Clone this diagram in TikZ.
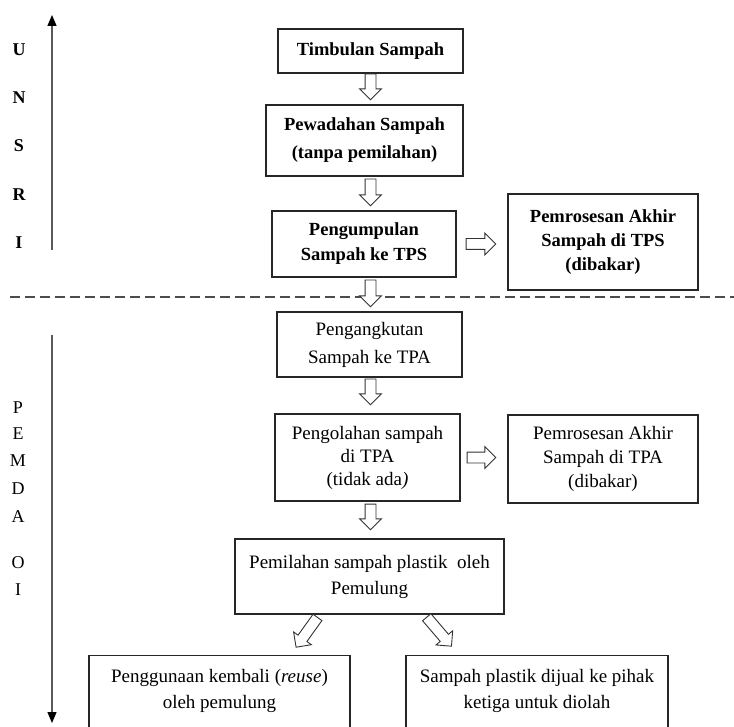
\documentclass[tikz,border=0pt]{standalone}
\usepackage{fontspec}
\setmainfont{Liberation Serif}
\usetikzlibrary{arrows.meta,calc,positioning,shapes.arrows}

\tikzset{
  box/.style={draw=black!85, line width=1.2pt, align=center, inner sep=0pt},
  topbox/.style={box, font=\bfseries\fontsize{18.5}{28}\selectfont},
  lowbox/.style={box, font=\fontsize{19}{24}\selectfont},
  lowtext/.style={align=center, inner sep=0pt, font=\fontsize{19}{26}\selectfont},
  blockarrow/.style={single arrow, draw=black!80, fill=white, line width=0.9pt,
    inner sep=0pt, inner ysep=5pt, single arrow head extend=5.5pt,
    single arrow head indent=0pt},
  side/.style={black!65, line width=1.4pt, -{Triangle[black, width=9pt, length=11pt]}}
}

% #1 gap at tail, #2 gap at tip, #3 from, #4 to
\newcommand{\hollowto}[4]{%
  \path let \p1=($(#4)-(#3)$), \n1={atan2(\y1,\x1)}, \n2={veclen(\x1,\y1)-#1-#2} in
    node[blockarrow, rotate=\n1, minimum height=\n2, anchor=tail] at ($(#3)!#1pt!(#4)$) {};}

\begin{document}
\begin{tikzpicture}[x=1pt, y=-1pt]
\useasboundingbox (0,0) rectangle (734,727);

\coordinate (unsri-bot) at (52,250);
\coordinate (unsri-top) at (52,15);
\coordinate (pemda-top) at (52,335);
\coordinate (pemda-bot) at (52,723);
\draw[side] (unsri-bot) -- (unsri-top);
\draw[side] (pemda-top) -- (pemda-bot);
\foreach \y/\l in {50/U, 98/N, 146/S, 195/R, 243/I}
  \node[font=\bfseries\fontsize{18}{18}\selectfont] (unsri-\l) at (19,\y) {\l};
\foreach \y/\l/\n in {408/P/1, 434/E/2, 461/M/3, 489/D/4, 517/A/5, 563/O/6, 590/I/7}
  \node[font=\fontsize{18}{18}\selectfont] (pemda-\n) at (18,\y) {\l};

\coordinate (cut-l) at (10,297);
\coordinate (cut-r) at (734,297);
\draw[black!70, line width=1.2pt, dash pattern=on 10pt off 5pt] (cut-l) -- (cut-r);

\node[topbox, minimum width=185, minimum height=44] (timbulan) at (370.5,51) {Timbulan Sampah};
\node[topbox, minimum width=197, minimum height=71] (pewadahan) at (364.5,140.5) {Pewadahan Sampah\\(tanpa pemilahan)};
\node[topbox, minimum width=184, minimum height=66, font=\bfseries\fontsize{18.5}{25}\selectfont] (pengumpulan) at (364,244) {Pengumpulan\\Sampah ke TPS};
\node[topbox, minimum width=190, minimum height=96, font=\bfseries\fontsize{18.5}{24}\selectfont] (akhir-tps) at (603,242) {Pemrosesan Akhir\\Sampah di TPS\\(dibakar)};

\node[lowbox, minimum width=185, minimum height=65, font=\fontsize{19}{28}\selectfont] (pengangkutan) at (369.5,344.5) {Pengangkutan\\Sampah ke TPA};
\node[lowbox, minimum width=185, minimum height=87, font=\fontsize{19}{23}\selectfont] (pengolahan) at (367.5,457.5) {Pengolahan sampah\\di TPA\\(tidak ada\textit{)}};
\node[lowbox, minimum width=190, minimum height=88] (akhir-tpa) at (603,459) {Pemrosesan Akhir\\Sampah di TPA\\(dibakar)};
\node[lowbox, minimum width=269, minimum height=75, font=\fontsize{19}{26}\selectfont] (pemilahan) at (369.5,576.5) {Pemilahan sampah plastik~ oleh\\Pemulung};

\node[box, minimum width=261, minimum height=90, anchor=north] (reuse) at (219.5,655) {};
\node[lowtext, below=14pt of reuse.north] (reuse-text) {Penggunaan kembali (\textit{reuse})\\oleh pemulung};
\node[box, minimum width=262, minimum height=90, anchor=north] (dijual) at (537,655) {};
\node[lowtext, below=14pt of dijual.north] (dijual-text) {Sampah plastik dijual ke pihak\\ketiga untuk diolah};

\hollowto{0}{5}{timbulan.south}{timbulan.south |- pewadahan.north}
\hollowto{2}{5}{timbulan.south |- pewadahan.south}{timbulan.south |- pengumpulan.north}
\hollowto{2}{5}{timbulan.south |- pengumpulan.south}{timbulan.south |- pengangkutan.north}
\hollowto{1}{9}{timbulan.south |- pengangkutan.south}{timbulan.south |- pengolahan.north}
\hollowto{2}{9}{timbulan.south |- pengolahan.south}{timbulan.south |- pemilahan.north}
\hollowto{9}{12}{pengumpulan.east}{pengumpulan.east -| akhir-tps.west}
\hollowto{6}{12}{pengolahan.east}{pengolahan.east -| akhir-tpa.west}

\coordinate (split-l) at ($(pemilahan.south)+(-50,0)$);
\coordinate (split-r) at ($(pemilahan.south)+(55,0)$);
\coordinate (reuse-in) at ($(reuse.north)+(71,0)$);
\coordinate (dijual-in) at ($(dijual.north)+(-78,0)$);
\hollowto{3}{10}{split-l}{reuse-in}
\hollowto{3}{12}{split-r}{dijual-in}

\end{tikzpicture}
\end{document}
